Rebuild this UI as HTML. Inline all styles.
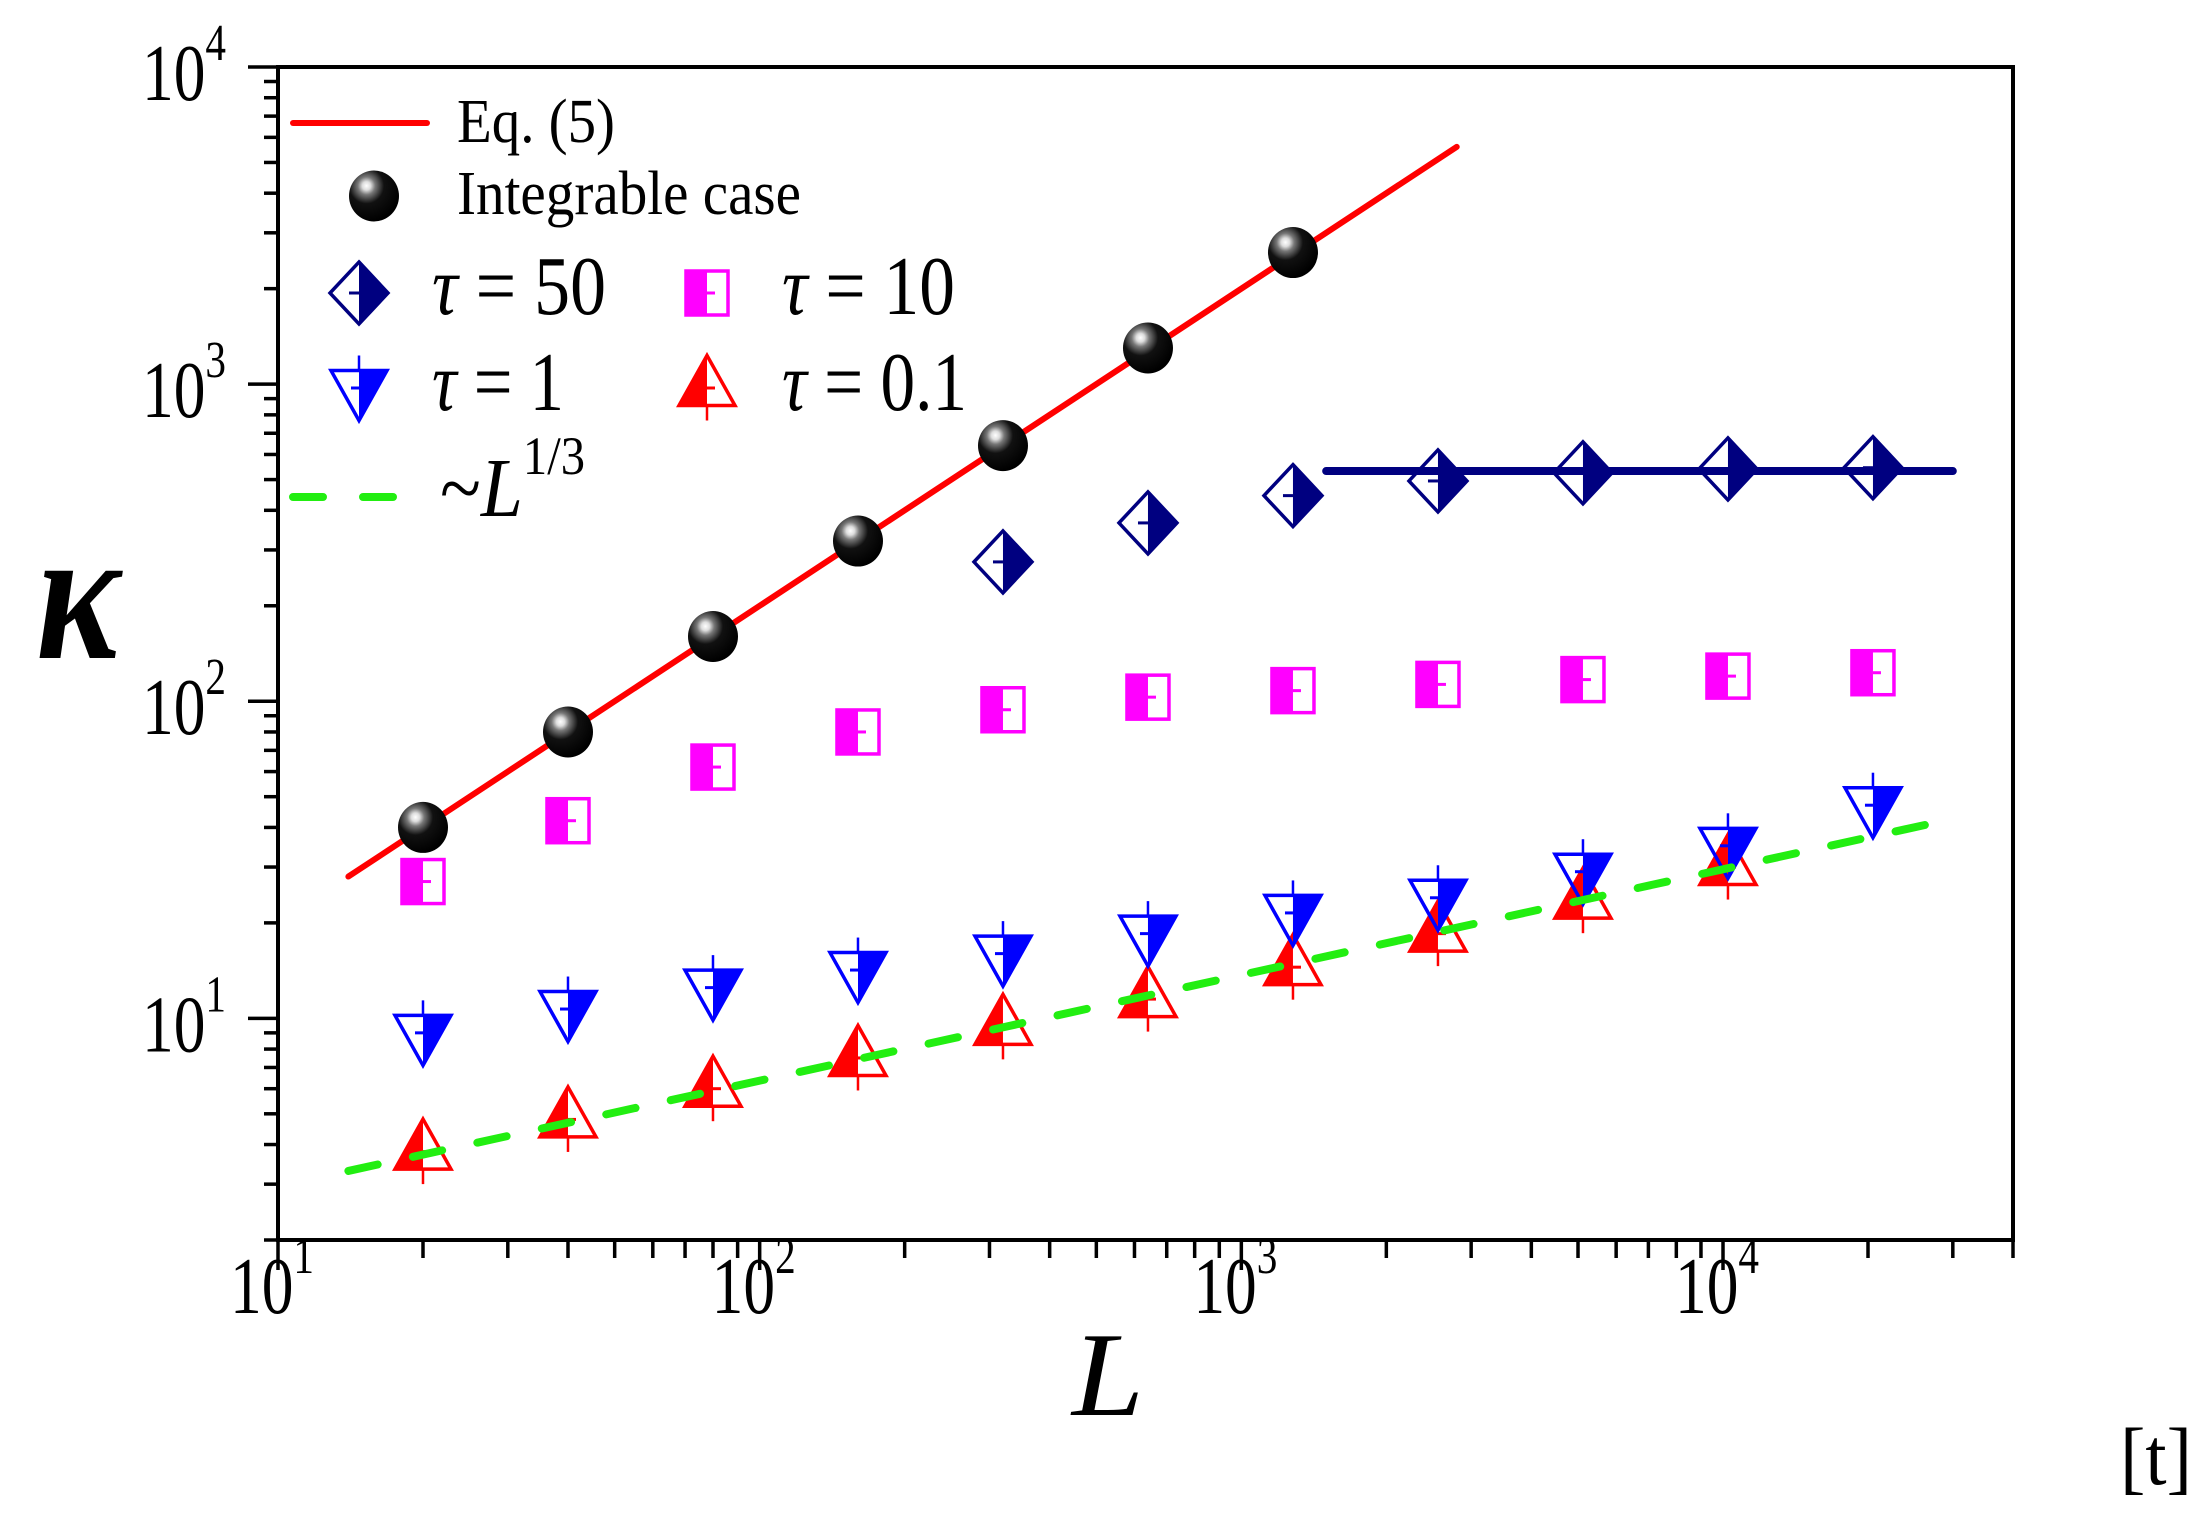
<!DOCTYPE html>
<html><head><meta charset="utf-8"><style>
html,body{margin:0;padding:0;background:#fff;}
svg{display:block;}
text{font-family:"Liberation Serif",serif;fill:#000;}
</style></head><body>
<svg id="chart" width="2207" height="1526" viewBox="0 0 2207 1526" xmlns="http://www.w3.org/2000/svg">
<defs>
<radialGradient id="sph" cx="0.35" cy="0.3" r="0.7">
<stop offset="0" stop-color="#fff"/><stop offset="0.12" stop-color="#ddd"/><stop offset="0.25" stop-color="#777"/><stop offset="0.5" stop-color="#111"/><stop offset="1" stop-color="#000"/>
</radialGradient>
</defs>
<g id="plot"></g>
<g id="legend"></g>
<text x="36" y="658" font-size="190" font-style="italic" font-weight="bold" textLength="84" lengthAdjust="spacingAndGlyphs">κ</text>
<text x="1072" y="1415" font-size="120" font-style="italic" textLength="72" lengthAdjust="spacingAndGlyphs">L</text>
<text x="2120" y="1484" font-size="82" textLength="72" lengthAdjust="spacingAndGlyphs">[t]</text>
</svg>
<script>
const Ls = [20,40,80,160,320,640,1280,2560,5120,10240,20480];
const integrable = [40,80,160,320,640,1300,2600];
const tau50L = [320,640,1280,2560,5120,10240,20480];
const tau50 = [275,365,445,495,525,540,545];
const tau10 = [27,42,62,80,94,103,108,113,117,120,123];
const tau1 = [9,10.7,12.5,14.2,16,18.5,21.5,24,29,35,47];
const tau01 = [3.8,4.8,6,7.5,9.4,11.5,14.5,18.5,23.5,30];
const eqRange = [14,2800];
const eqCoef = [2];
const plateau = [532];
const plateauRange = [1500,30000];
const slopeCoef = [1.37];
const slopeRange = [14,30000];
const xTickExp = [1,2,3,4];
const yTickExp = [1,2,3,4];

const X0=278, X1=2013, Y0=1240, Y1=67;
const xmin=10, xmax=40000, ymin=2, ymax=10000;
const NS='http://www.w3.org/2000/svg';
function sx(v){return X0+(Math.log10(v)-Math.log10(xmin))/(Math.log10(xmax)-Math.log10(xmin))*(X1-X0);}
function sy(v){return Y0-(Math.log10(v)-Math.log10(ymin))/(Math.log10(ymax)-Math.log10(ymin))*(Y0-Y1);}
function mk(tag,attrs,parent){const e=document.createElementNS(NS,tag);for(const k in attrs)e.setAttribute(k,attrs[k]);parent.appendChild(e);return e;}
const plot=document.getElementById('plot');
const leg=document.getElementById('legend');

const frame=mk('rect',{x:X0,y:Y1,width:X1-X0,height:Y0-Y1,fill:'none',stroke:'#000','stroke-width':4},plot);


for(let e=1;e<=4;e++){for(let m=1;m<=9;m++){const v=m*Math.pow(10,e);if(v>xmax)break;const x=sx(v);
 const t=mk('line',{x1:x,y1:Y0,x2:x,y2:Y0+(m===1?30:18),stroke:'#000','stroke-width':3.5},plot);
 
 }}
function tickLabel(x,y,e,name){
 const t=mk('text',{x:x,y:y,'font-size':80,textLength:84,lengthAdjust:'spacingAndGlyphs'},plot);
 
 
 t.innerHTML='10<tspan dy="-40" font-size="52">'+e+'</tspan>';}
xTickExp.forEach(e=>{tickLabel(sx(Math.pow(10,e))-48,1313,e,'x-tick-label');});
for(let e=0;e<=4;e++){for(let m=1;m<=9;m++){const v=m*Math.pow(10,e);if(v<ymin||v>ymax)continue;const y=sy(v);
 const t=mk('line',{x1:X0,y1:y,x2:X0-(m===1?30:14),y2:y,stroke:'#000','stroke-width':3.5},plot);
 
 }}
yTickExp.forEach(e=>{tickLabel(142,sy(Math.pow(10,e))+33,e,'y-tick-label');});

const eq=mk('line',{x1:sx(eqRange[0]),y1:sy(eqCoef[0]*eqRange[0]),x2:sx(eqRange[1]),y2:sy(eqCoef[0]*eqRange[1]),stroke:'#ff0000','stroke-width':6,'stroke-linecap':'round'},plot);


const pl=mk('line',{x1:sx(plateauRange[0]),y1:sy(plateau[0]),x2:sx(plateauRange[1]),y2:sy(plateau[0]),stroke:'#000080','stroke-width':8,'stroke-linecap':'round'},plot);



function sphere(g,x,y,r){mk('ellipse',{cx:x,cy:y,rx:r,ry:r*1.02,fill:'url(#sph)'},g);}
function diamond(g,x,y){const w=29,h=31;
 mk('path',{d:`M${x},${y-h} L${x+w},${y} L${x},${y+h} Z`,fill:'#000080'},g);
 mk('path',{d:`M${x},${y-h} L${x+w},${y} L${x},${y+h} L${x-w},${y} Z`,fill:'none',stroke:'#000080','stroke-width':3.5},g);
 mk('line',{x1:x-10,y1:y,x2:x,y2:y,stroke:'#000080','stroke-width':3},g);}
function square(g,x,y){const w=21,h=22;
 mk('rect',{x:x-w,y:y-h,width:w,height:2*h,fill:'#ff00ff'},g);
 mk('rect',{x:x-w,y:y-h,width:2*w,height:2*h,fill:'none',stroke:'#ff00ff','stroke-width':3.5},g);
 mk('line',{x1:x,y1:y,x2:x+8,y2:y,stroke:'#ff00ff','stroke-width':3},g);}
function downTri(g,x,y){const w=28,h=50,top=y-h*0.35;
 mk('path',{d:`M${x},${top} L${x+w},${top} L${x},${top+h} Z`,fill:'#0000ff'},g);
 mk('path',{d:`M${x-w},${top} L${x+w},${top} L${x},${top+h} Z`,fill:'none',stroke:'#0000ff','stroke-width':3.5},g);
 mk('line',{x1:x,y1:top-15,x2:x,y2:top,stroke:'#0000ff','stroke-width':2.5},g);
 mk('line',{x1:x-8,y1:y,x2:x,y2:y,stroke:'#0000ff','stroke-width':3},g);}
function upTri(g,x,y){const w=28,h=50,bot=y+h*0.35;
 mk('path',{d:`M${x},${bot-h} L${x},${bot} L${x-w},${bot} Z`,fill:'#ff0000'},g);
 mk('path',{d:`M${x},${bot-h} L${x+w},${bot} L${x-w},${bot} Z`,fill:'none',stroke:'#ff0000','stroke-width':3.5},g);
 mk('line',{x1:x,y1:bot,x2:x,y2:bot+15,stroke:'#ff0000','stroke-width':2.5},g);
 mk('line',{x1:x,y1:y,x2:x+8,y2:y,stroke:'#ff0000','stroke-width':3},g);}

tau01.forEach((v,i)=>{const g=mk('g',{},plot);
 
 
 upTri(g,sx(Ls[i]),sy(v));});
tau1.forEach((v,i)=>{const g=mk('g',{},plot);
 
 
 downTri(g,sx(Ls[i]),sy(v));});
const sl=mk('line',{x1:sx(slopeRange[0]),y1:sy(slopeCoef[0]*Math.cbrt(slopeRange[0])),x2:sx(slopeRange[1]),y2:sy(slopeCoef[0]*Math.cbrt(slopeRange[1])),stroke:'#22ee11','stroke-width':8,'stroke-dasharray':'30 36','stroke-linecap':'round'},plot);


tau10.forEach((v,i)=>{const g=mk('g',{},plot);
 
 
 square(g,sx(Ls[i]),sy(v));});
tau50.forEach((v,i)=>{const g=mk('g',{},plot);
 
 
 diamond(g,sx(tau50L[i]),sy(v));});
integrable.forEach((v,i)=>{const g=mk('g',{},plot);
 
 
 sphere(g,sx(Ls[i]),sy(v),25);});

function ltext(x,y,html,fs,len,name){const t=mk('text',{x:x,y:y,'font-size':fs,textLength:len,lengthAdjust:'spacingAndGlyphs'},leg);
 
 
 t.innerHTML=html;return t;}
mk('line',{x1:293,y1:123,x2:427,y2:123,stroke:'#ff0000','stroke-width':6,'stroke-linecap':'round'},leg);
ltext(457,142,'Eq. (5)',62,158,'legend-eq5');
sphere(leg,374,196,25);
ltext(457,214,'Integrable case',62,344,'legend-integrable');
diamond(leg,359,293);
ltext(432,314,'<tspan font-style="italic">τ</tspan> = 50',84,174,'legend-tau50');
square(leg,707,293);
ltext(782,314,'<tspan font-style="italic">τ</tspan> = 10',84,173,'legend-tau10');
downTri(leg,359,388);
ltext(432,410,'<tspan font-style="italic">τ</tspan> = 1',84,132,'legend-tau1');
upTri(leg,707,388);
ltext(782,410,'<tspan font-style="italic">τ</tspan> = 0.1',84,185,'legend-tau0.1');
mk('line',{x1:293,y1:497,x2:395,y2:497,stroke:'#22ee11','stroke-width':8,'stroke-dasharray':'30 40','stroke-linecap':'round'},leg);
ltext(440,516,'~<tspan font-style="italic">L</tspan><tspan dy="-42" font-size="54">1/3</tspan>',84,145,'legend-L13');
</script>
</body></html>
